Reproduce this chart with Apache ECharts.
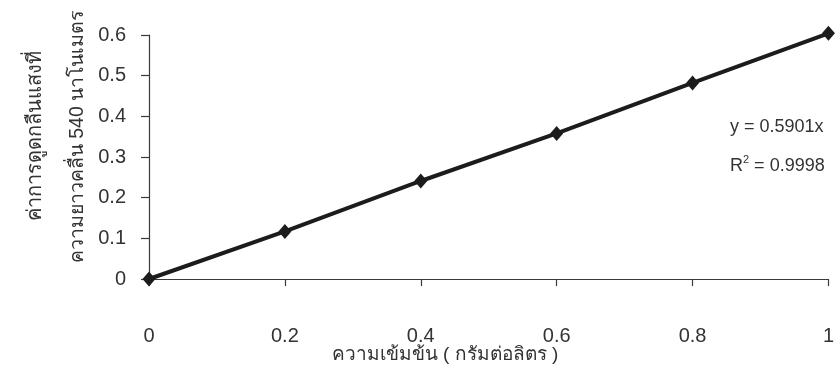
<!DOCTYPE html>
<html>
<head>
<meta charset="utf-8">
<script src="https://cdn.jsdelivr.net/npm/echarts@6/dist/echarts.min.js"></script>
<style>
  html, body { margin: 0; padding: 0; background: #fff; }
  #chart { width: 837px; height: 371px; }
</style>
</head>
<body>
<div id="chart"></div>
<script>
// Calibration data: concentration (g/L) vs absorbance at 540 nm
var concentrations = [0, 0.2, 0.4, 0.6, 0.8, 1.0];
var absorbances = [0, 0.117, 0.241, 0.358, 0.482, 0.604];
var xTicks = [0, 0.2, 0.4, 0.6, 0.8, 1];
var yTicks = [0, 0.1, 0.2, 0.3, 0.4, 0.5, 0.6];

var xTitle = 'ความเข้มข้น ( กรัมต่อลิตร )';
var yTitleLine1 = 'ค่าการดูดกลืนแสงที่';
var yTitleLine2 = 'ความยาวคลื่น 540 นาโนเมตร';
var equation = 'y = 0.5901x';
var rSquared = '0.9998';

var FONT = '"Liberation Sans", Arial, "Noto Sans", sans-serif';
var ink = '#3a3a3a';

var chart = echarts.init(document.getElementById('chart'), null, { renderer: 'canvas' });

chart.setOption({
  backgroundColor: '#ffffff',
  animation: false,
  grid: { left: 149, right: 3, top: 35, bottom: 92, containLabel: false },
  xAxis: {
    type: 'value',
    min: xTicks[0],
    max: xTicks[xTicks.length - 1],
    interval: 0.2,
    axisLine: { show: true, lineStyle: { color: ink, width: 1.2 } },
    axisTick: { show: true, inside: false, length: 7, lineStyle: { color: ink, width: 1.2 } },
    axisLabel: {
      margin: 47,
      color: '#333',
      fontFamily: FONT,
      fontSize: 20,
      formatter: function (v) { return String(Math.round(v * 10) / 10); }
    },
    splitLine: { show: false }
  },
  yAxis: {
    type: 'value',
    min: yTicks[0],
    max: yTicks[yTicks.length - 1],
    interval: 0.1,
    axisLine: { show: true, lineStyle: { color: ink, width: 1.2 } },
    axisTick: { show: true, inside: false, length: 8, lineStyle: { color: ink, width: 1.2 } },
    axisLabel: {
      margin: 23,
      color: '#333',
      fontFamily: FONT,
      fontSize: 20,
      formatter: function (v) { return String(Math.round(v * 10) / 10); }
    },
    splitLine: { show: false }
  },
  series: [{
    type: 'line',
    data: concentrations.map(function (c, i) { return [c, absorbances[i]]; }),
    symbol: 'diamond',
    symbolSize: [13, 15],
    lineStyle: { color: '#1c1c1c', width: 4 },
    itemStyle: { color: '#1c1c1c' },
    clip: false,
    z: 5
  }],
  graphic: [
    {
      type: 'text',
      x: 35, y: 136,
      rotation: Math.PI / 2,
      style: {
        text: yTitleLine1,
        fill: '#333',
        font: '20px ' + FONT,
        align: 'center',
        verticalAlign: 'middle'
      }
    },
    {
      type: 'text',
      x: 78, y: 137,
      rotation: Math.PI / 2,
      style: {
        text: yTitleLine2,
        fill: '#333',
        font: '19.5px ' + FONT,
        align: 'center',
        verticalAlign: 'middle'
      }
    },
    {
      type: 'text',
      x: 445, y: 355,
      style: {
        text: xTitle,
        fill: '#333',
        font: '19px ' + FONT,
        align: 'center',
        verticalAlign: 'middle'
      }
    },
    {
      type: 'text',
      x: 730, y: 127,
      style: {
        text: equation,
        fill: '#333',
        font: '18px ' + FONT,
        align: 'left',
        verticalAlign: 'middle'
      }
    },
    {
      type: 'text',
      x: 730, y: 166,
      style: {
        text: '{r|R}{s|2}{r| = ' + rSquared + '}',
        align: 'left',
        verticalAlign: 'middle',
        rich: {
          r: { fill: '#333', fontFamily: FONT, fontSize: 18 },
          s: { fill: '#333', fontFamily: FONT, fontSize: 11, verticalAlign: 'top', padding: [0, 0, 12, 0] }
        }
      }
    }
  ]
});
</script>
</body>
</html>
